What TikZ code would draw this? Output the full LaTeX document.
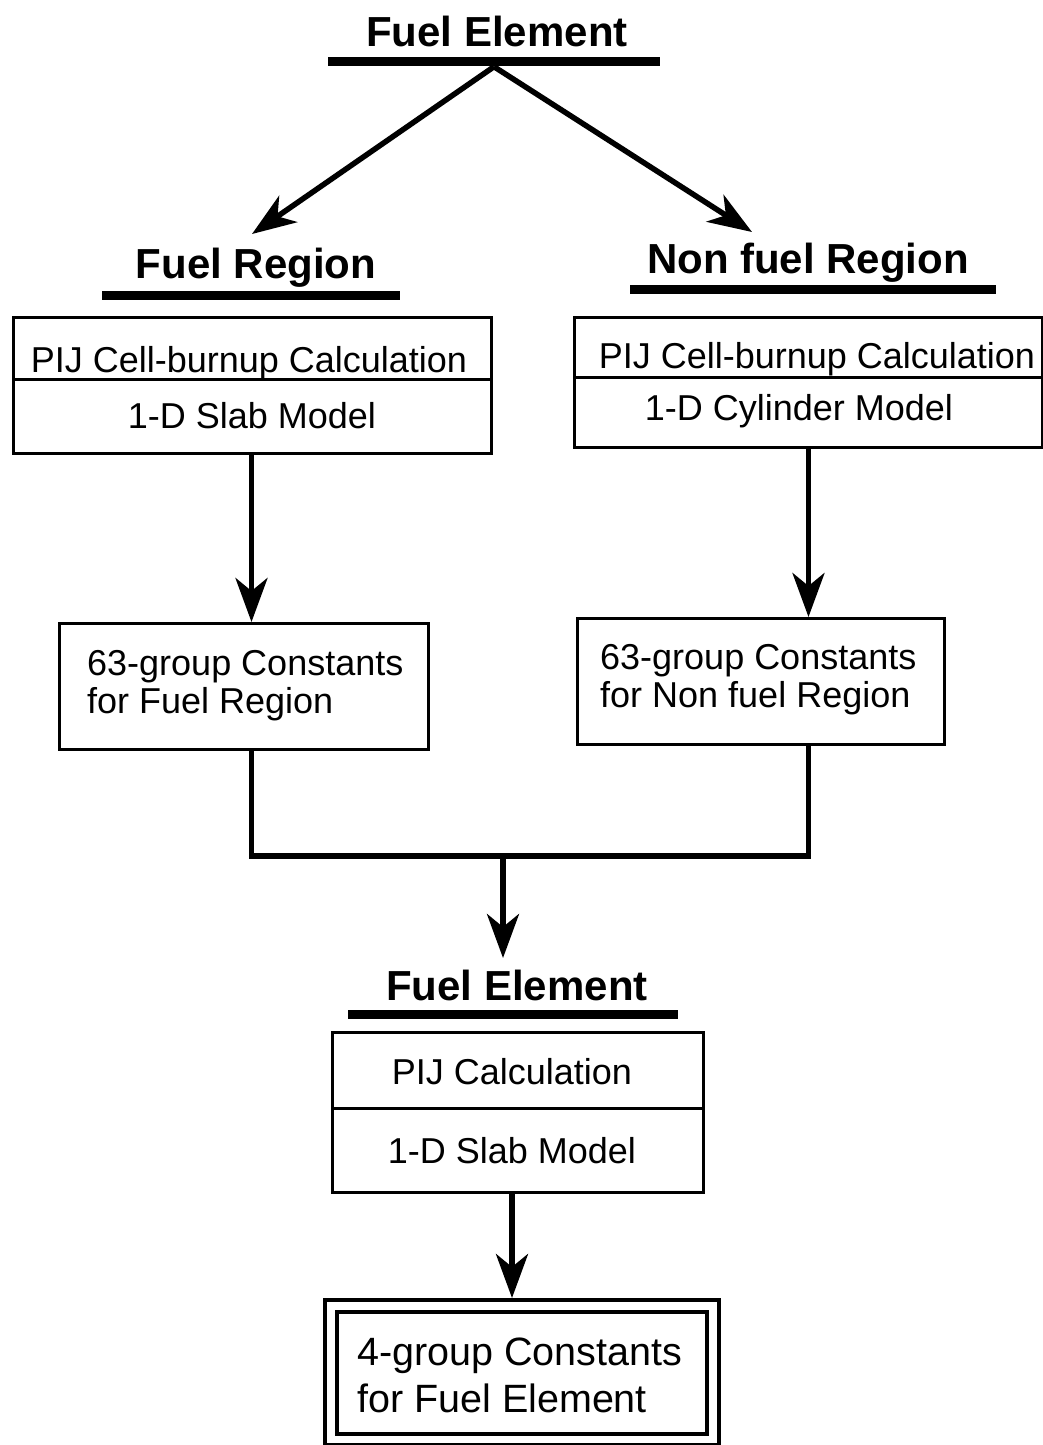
\documentclass[tikz,border=0pt]{standalone}
\usepackage{fontspec}
\setmainfont{Liberation Sans}
\usetikzlibrary{arrows.meta,calc}
\newcommand\myTitleFont{\fontsize{42}{46}\selectfont\bfseries}
\newcommand\myBoxFont{\fontsize{36}{40}\selectfont}
\newcommand\myBigFont{\fontsize{39.5}{44}\selectfont}
\begin{document}
\begin{tikzpicture}[x=1pt,y=-1pt,
  titletxt/.style={inner sep=0pt, anchor=base, font=\myTitleFont},
  boxtxt/.style={inner sep=0pt, anchor=base, font=\myBoxFont},
  boxtxtl/.style={inner sep=0pt, anchor=base west, font=\myBoxFont},
  bigtxtl/.style={inner sep=0pt, anchor=base west, font=\myBigFont},
  bar/.style={fill=black, draw=none, inner sep=0pt, minimum height=9pt},
  boxpart/.style={draw, line width=3pt, inner sep=0pt, anchor=north west},
  conn/.style={line width=5.5pt, line join=miter},
  arr/.style={line width=5.5pt, -{Stealth[length=44pt, width=32pt, inset=13pt]}}
]
\useasboundingbox (0,0) rectangle (1043,1445);

% top title
\node[titletxt] (T1) at (497,47) {Fuel Element};
\node[bar, minimum width=332pt] (B1) at (494,62) {};

% region titles
\node[titletxt] (T2) at (256,278) {Fuel Region};
\node[bar, minimum width=298pt] (B2) at (251,295) {};
\node[titletxt] (T3) at (808,273) {Non fuel Region};
\node[bar, minimum width=366pt] (B3) at (813,289) {};

\coordinate (a2) at (252,234);
\coordinate (a3) at (752,232);
\draw[arr] (B1.south) -- (a2);
\draw[arr] (B1.south) -- (a3);

% left calculation box
\node[boxpart, minimum width=478pt, minimum height=62pt] (L1) at (12,316) {};
\node[boxpart, minimum width=478pt, minimum height=74pt] (L2) at (12,378) {};
\node[boxtxt] (L1t) at (249,372) {PIJ Cell-burnup Calculation};
\node[boxtxt] (L2t) at (252,428) {1-D Slab Model};

% right calculation box
\node[boxpart, minimum width=468pt, minimum height=60pt] (R1) at (573,316) {};
\node[boxpart, minimum width=468pt, minimum height=70pt] (R2) at (573,376) {};
\node[boxtxt] (R1t) at (817,368) {PIJ Cell-burnup Calculation};
\node[boxtxt] (R2t) at (799,420) {1-D Cylinder Model};

% 63-group boxes
\node[boxpart, minimum width=369pt, minimum height=126pt] (LA) at (58,622) {};
\node[boxtxtl] (LAt1) at (87,675) {63-group Constants};
\node[boxtxtl] (LAt2) at (87,713) {for Fuel Region};

\node[boxpart, minimum width=367pt, minimum height=126pt] (RA) at (576,617) {};
\node[boxtxtl] (RAt1) at (600,669) {63-group Constants};
\node[boxtxtl] (RAt2) at (600,707) {for Non fuel Region};

\coordinate (lx) at ($(L2.south)+(-1,0)$);
\coordinate (rx) at (R2.south);
\draw[arr] (lx) -- (lx |- LA.north);
\draw[arr] (rx) -- (rx |- RA.north);

% merge
\coordinate (mj) at (503,856);
\coordinate (m4) at (503,958);
\draw[conn] (lx |- LA.south) |- (mj) -| (rx |- RA.south);
\draw[arr] (mj) -- (m4);

% bottom title
\node[titletxt] (T4) at (517,1000) {Fuel Element};
\node[bar, minimum width=330pt] (B4) at (513,1014) {};

% PIJ calculation box
\node[boxpart, minimum width=371pt, minimum height=76pt] (M1) at (331,1031) {};
\node[boxpart, minimum width=371pt, minimum height=84pt] (M2) at (331,1107) {};
\node[boxtxt] (M1t) at (512,1084) {PIJ Calculation};
\node[boxtxt] (M2t) at (512,1163) {1-D Slab Model};

% final double box
\node[boxpart, line width=3.5pt, minimum width=394pt, minimum height=145pt] (D) at (323,1298) {};
\node[boxpart, line width=3.5pt, minimum width=370pt, minimum height=122pt] (Di) at (335,1310) {};
\node[bigtxtl] (Dt1) at (357,1365) {4-group Constants};
\node[bigtxtl] (Dt2) at (357,1412) {for Fuel Element};

\coordinate (mx) at ($(M2.south)+(-6,0)$);
\draw[arr] (mx) -- (mx |- D.north);
\end{tikzpicture}
\end{document}
